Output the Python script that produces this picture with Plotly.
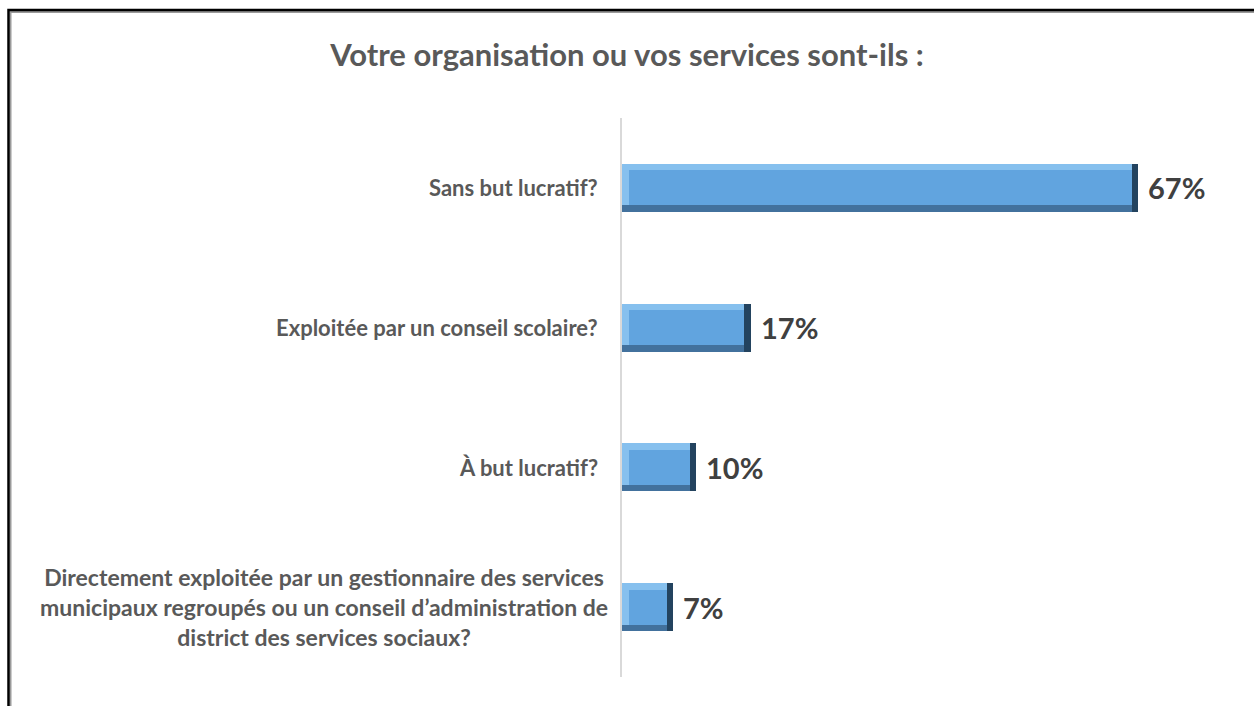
import plotly.graph_objects as go

# ---------------- data ----------------
title_text = "Votre organisation ou vos services sont-ils :"
categories = [
    "Sans but lucratif?",
    "Exploitée par un conseil scolaire?",
    "À but lucratif?",
    "Directement exploitée par un gestionnaire des services",
]
label_lines = [
    ["Sans but lucratif?"],
    ["Exploitée par un conseil scolaire?"],
    ["À but lucratif?"],
    ["Directement exploitée par un gestionnaire des services",
     "municipaux regroupés ou un conseil d’administration de",
     "district des services sociaux?"],
]
values = [0.666, 0.166, 0.096, 0.066]
value_labels = ["67%", "17%", "10%", "7%"]

# ---------------- style ----------------
W, H = 1254, 706
ML, MR, MT, MB = 622, 12, 118, 29
XMAX = 0.8
FONT = "Lato"
GREY = "#595959"

bar_w = 0.345          # thickness in category units
bev_y = 0.047          # bevel thickness (category units)
px_per_unit = (W - ML - MR) / XMAX
bev_x = 6.5 / px_per_unit  # bevel thickness in x units

fig = go.Figure()

# dark base (right bevel)
fig.add_trace(go.Bar(
    y=categories, x=values, orientation="h", width=bar_w,
    marker=dict(color="#23435F", line=dict(width=0)), hoverinfo="skip",
))
# bottom bevel
fig.add_trace(go.Bar(
    y=categories, x=[v - bev_x for v in values], orientation="h",
    width=bar_w, offset=-bar_w / 2,
    marker=dict(color="#42719D", line=dict(width=0)), hoverinfo="skip",
))
# light highlight (top & left bevel)
fig.add_trace(go.Bar(
    y=categories, x=[v - bev_x for v in values], orientation="h",
    width=bar_w - bev_y, offset=-bar_w / 2,
    marker=dict(color="#86C0EE", line=dict(width=0)), hoverinfo="skip",
))
# main face
fig.add_trace(go.Bar(
    y=categories, x=[v - 2 * bev_x for v in values], base=[bev_x] * len(values),
    orientation="h",
    width=bar_w - 2 * bev_y, offset=-bar_w / 2 + bev_y,
    marker=dict(color="#61A4DF", line=dict(width=0)), hoverinfo="skip",
))

annotations = []
# value labels
for c, v, t in zip(categories, values, value_labels):
    annotations.append(dict(
        x=v, y=c, xref="x", yref="y", text=t, showarrow=False,
        xanchor="left", yanchor="middle", xshift=8,
        font=dict(family=FONT, size=29, color="#404040", weight="bold"),
    ))
# category labels (centred multi-line text)
for c, lines in zip(categories, label_lines):
    multi = len(lines) > 1
    annotations.append(dict(
        x=-22 / (W - ML - MR), y=c, xref="paper", yref="y", text="<br>".join(lines),
        showarrow=False, xanchor="right", yanchor="middle", align="center",
        xshift=10 if multi else 0,
        font=dict(family=FONT, size=23 if multi else 22, color=GREY, weight="bold"),
    ))

pw = W - ML - MR
ph = H - MT - MB
def px2paper_x(px):
    return (px - ML) / pw
def px2paper_y(py):
    return (H - MB - py) / ph

shapes = [
    # shadow of the frame
    dict(type="rect", xref="paper", yref="paper",
         x0=px2paper_x(10.5), x1=px2paper_x(1300), y0=px2paper_y(760), y1=px2paper_y(12),
         line=dict(color="#9A9A9A", width=2), fillcolor="rgba(0,0,0,0)", layer="below"),
    # frame
    dict(type="rect", xref="paper", yref="paper",
         x0=px2paper_x(8.5), x1=px2paper_x(1300), y0=px2paper_y(760), y1=px2paper_y(10),
         line=dict(color="#000000", width=2.5), fillcolor="rgba(0,0,0,0)", layer="below"),
]

fig.update_layout(
    width=W, height=H,
    margin=dict(l=ML, r=MR, t=MT, b=MB),
    paper_bgcolor="white", plot_bgcolor="white",
    barmode="overlay", showlegend=False, bargap=0,
    title=dict(text=title_text, x=0.5, xref="container", xanchor="center",
               y=1 - 55 / H, yref="container", yanchor="middle",
               font=dict(family=FONT, size=31, color=GREY, weight="bold")),
    xaxis=dict(range=[0, XMAX], showgrid=False, zeroline=False,
               showticklabels=False, showline=False, fixedrange=True),
    yaxis=dict(autorange="reversed", showgrid=False, zeroline=False,
               showticklabels=False, ticks="", showline=True,
               linecolor="#D9D9D9", linewidth=2, fixedrange=True),
    annotations=annotations,
    shapes=shapes,
)

fig.write_html("out.html", config={"displayModeBar": False},
               post_script="document.body.style.margin='0px';")
